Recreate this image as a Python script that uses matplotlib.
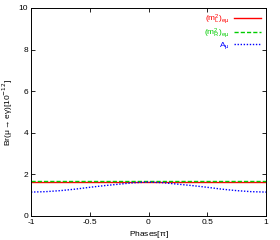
import matplotlib.pyplot as plt
import numpy as np

# phases in units of pi
phase = [-1.0, -0.875, -0.75, -0.625, -0.5, -0.375, -0.25, -0.125, 0.0,
         0.125, 0.25, 0.375, 0.5, 0.625, 0.75, 0.875, 1.0]
br_mL = [1.65] * len(phase)
br_mR = [1.66] * len(phase)
br_A = [1.15, 1.17, 1.22, 1.29, 1.38, 1.46, 1.53, 1.60, 1.63,
        1.60, 1.53, 1.46, 1.38, 1.29, 1.22, 1.17, 1.15]

xticks = [-1, -0.5, 0, 0.5, 1]
xticklabels = ['-1', '-0.5', '0', '0.5', '1']
yticks = [0, 2, 4, 6, 8, 10]

plt.rcParams['font.family'] = ['Liberation Sans', 'DejaVu Sans']
plt.rcParams['font.size'] = 6

fig = plt.figure(figsize=(2.8, 2.4), dpi=100)
ax = fig.add_axes([31/280, 24/240, 235/280, 208/240])

ax.plot(phase, br_mL, color='#ff0000', lw=1.0, ls='-', label=r'$\mathregular{(m^2_L)_{e\mu}}$')
ax.plot(phase, br_mR, color='#00cc00', lw=1.0, ls=(0, (3, 1.5)), label=r'$\mathregular{(m^2_R)_{e\mu}}$')
ax.plot(phase, br_A, color='#0000ff', lw=1.0, ls=(0, (1, 1.2)), label=r'$\mathregular{A_\mu}$')

ax.set_xlim(-1, 1)
ax.set_ylim(0, 10)
ax.set_xticks(xticks)
ax.set_xticklabels(xticklabels)
ax.set_yticks(yticks)
ax.tick_params(direction='in', top=True, right=True, length=3, width=0.6, labelsize=6, pad=2)
for s in ax.spines.values():
    s.set_linewidth(0.7)

ax.set_xlabel(r'Phases[$\mathregular{\pi}$]', fontsize=6, labelpad=2)
ax.set_ylabel(r'Br($\mathregular{\mu\rightarrow e\gamma}$)[10$^{-12}$]', fontsize=6, labelpad=3)

leg = ax.legend(loc='upper right', frameon=False, markerfirst=False, labelcolor='linecolor',
                fontsize=6, handlelength=3.2, handletextpad=0.6, labelspacing=0.05,
                borderaxespad=0.2)

fig.savefig('out.png', dpi=100)
